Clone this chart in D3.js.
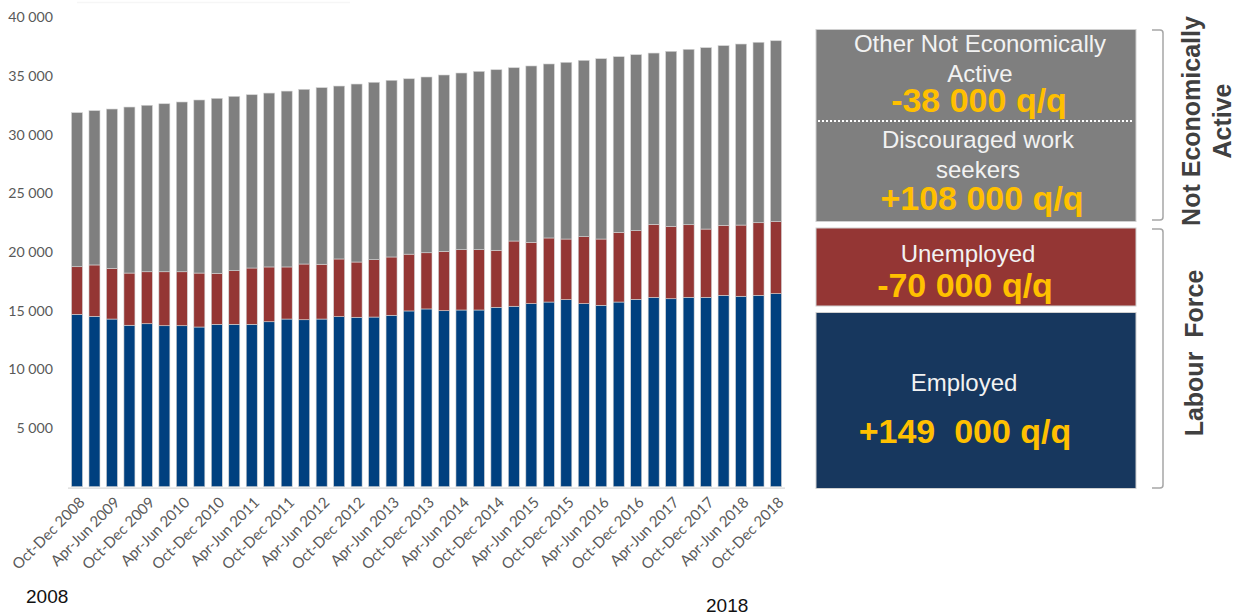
<!DOCTYPE html>
<html><head><meta charset="utf-8">
<script src="https://cdn.jsdelivr.net/npm/d3@7/dist/d3.min.js"></script>
<style>body{margin:0;background:#fff}svg{display:block}</style>
</head><body>
<svg id="chart" width="1242" height="616"></svg>
<script>
const quarters = [
 "Oct-Dec 2008","Jan-Mar 2009","Apr-Jun 2009","Jul-Sep 2009","Oct-Dec 2009",
 "Jan-Mar 2010","Apr-Jun 2010","Jul-Sep 2010","Oct-Dec 2010",
 "Jan-Mar 2011","Apr-Jun 2011","Jul-Sep 2011","Oct-Dec 2011",
 "Jan-Mar 2012","Apr-Jun 2012","Jul-Sep 2012","Oct-Dec 2012",
 "Jan-Mar 2013","Apr-Jun 2013","Jul-Sep 2013","Oct-Dec 2013",
 "Jan-Mar 2014","Apr-Jun 2014","Jul-Sep 2014","Oct-Dec 2014",
 "Jan-Mar 2015","Apr-Jun 2015","Jul-Sep 2015","Oct-Dec 2015",
 "Jan-Mar 2016","Apr-Jun 2016","Jul-Sep 2016","Oct-Dec 2016",
 "Jan-Mar 2017","Apr-Jun 2017","Jul-Sep 2017","Oct-Dec 2017",
 "Jan-Mar 2018","Apr-Jun 2018","Jul-Sep 2018","Oct-Dec 2018"];
// thousands
const employed = [14690,14520,14290,13760,13890,13720,13720,13610,13840,13840,13840,14060,14290,14230,14290,14490,14440,14460,14610,14980,15150,15000,15060,15060,15290,15380,15600,15740,15940,15600,15460,15740,15970,16140,16020,16140,16140,16310,16230,16310,16450];
const unemployed = [4060,4380,4320,4450,4430,4600,4600,4600,4350,4570,4800,4670,4440,4750,4670,4920,4710,4890,4970,4840,4790,5060,5140,5140,4860,5560,5230,5460,5170,5710,5650,5940,5850,6220,6170,6190,5820,5970,6070,6190,6140];
const notActive = [13130,13150,13580,14150,14190,14320,14470,14750,14910,14860,14770,14820,14990,14890,15050,14740,15170,15120,15060,14950,14980,15030,15060,15200,15390,14770,15030,14830,15060,15030,15370,14970,15000,14600,14920,14950,15460,15310,15430,15380,15420];
const yTicks = [5000,10000,15000,20000,25000,30000,35000,40000];
const seriesKeys = ["employed","unemployed","notActive"];
const seriesColors = ["#00407F","#943634","#7F7F7F"];
const yearLabels = ["2008","2018"];

const svg = d3.select("#chart");
const x = d3.scaleBand().domain(quarters).range([68,785]).paddingInner(0.37).paddingOuter(0.2);
const y = d3.scaleLinear().domain([0,40000]).range([486.7,17.4]);

const rows = quarters.map((q,i)=>({q, employed:employed[i], unemployed:unemployed[i], notActive:notActive[i]}));
const stacked = d3.stack().keys(seriesKeys)(rows);

// faint decorative line at top
svg.append("line").attr("x1",77).attr("x2",350).attr("y1",2.5).attr("y2",2.5)
  .attr("stroke","#f6f6f6").attr("stroke-width",1.5);

// bars
svg.append("g").selectAll("g").data(stacked).join("g")
  .attr("fill",(d,i)=>seriesColors[i])
  .selectAll("rect").data(d=>d).join("rect")
  .attr("x",d=>x(d.data.q))
  .attr("width",x.bandwidth())
  .attr("y",d=>y(d[1]))
  .attr("height",d=>y(d[0])-y(d[1]))
  .attr("stroke","#d4d4d4").attr("stroke-width",0.6);

// x axis baseline
svg.append("line").attr("x1",68).attr("x2",785).attr("y1",y(0)+1.5).attr("y2",y(0)+1.5)
  .attr("stroke","#d9d9d9").attr("stroke-width",1.2);

// y axis labels
const fmt = v => d3.format(",")(v).replace(/,/g," ");
const yAxis = d3.axisLeft(y).tickValues(yTicks).tickFormat(fmt).tickSize(0).tickPadding(0);
const yg = svg.append("g").attr("transform","translate(53,0)").call(yAxis);
yg.select(".domain").remove();
yg.selectAll("text").attr("fill","#595959")
  .style("font-family","Lato, sans-serif").style("font-size","14.2px");

// x axis labels (every other quarter)
const xAxis = d3.axisBottom(x).tickValues(quarters.filter((q,i)=>i%2===0)).tickSize(0).tickPadding(0);
const xg = svg.append("g").attr("transform",`translate(0,${y(0)})`).call(xAxis);
xg.select(".domain").remove();
xg.selectAll("text")
  .attr("fill","#595959")
  .style("font-family","Lato, sans-serif").style("font-size","15px")
  .attr("text-anchor","end")
  .attr("transform","translate(5,13) rotate(-45)")
  .attr("dy","0.35em").attr("y",0);

// year labels
svg.append("text").attr("x",26).attr("y",602.5).text(yearLabels[0])
  .style("font-family","Liberation Sans, Arial, sans-serif").style("font-size","19px").attr("fill","#111");
svg.append("text").attr("x",706).attr("y",611.5).text(yearLabels[1])
  .style("font-family","Liberation Sans, Arial, sans-serif").style("font-size","19px").attr("fill","#111");

// right panel
const boxes = [
  {y0:29.5, y1:221.5, fill:"#7F7F7F"},
  {y0:228, y1:306, fill:"#943634"},
  {y0:312.5, y1:488.5, fill:"#17375E"}
];
const bx0 = 816, bx1 = 1136;
svg.append("g").selectAll("rect").data(boxes).join("rect")
  .attr("x",bx0).attr("y",d=>d.y0).attr("width",bx1-bx0).attr("height",d=>d.y1-d.y0)
  .attr("fill",d=>d.fill).attr("stroke","#d0d0d0").attr("stroke-width",1);
svg.append("line").attr("x1",bx0+2).attr("x2",bx1-2).attr("y1",121).attr("y2",121)
  .attr("stroke","#ffffff").attr("stroke-width",2).attr("stroke-dasharray","2,2");

const panelTexts = [
  {t:"Other Not Economically", x:980, y:51.7, bold:false},
  {t:"Active", x:980, y:81.7, bold:false},
  {t:"-38 000 q/q", x:979, y:112, bold:true},
  {t:"Discouraged work", x:978, y:148.3, bold:false},
  {t:"seekers", x:978, y:177.5, bold:false},
  {t:"+108 000 q/q", x:982, y:210, bold:true},
  {t:"Unemployed", x:968, y:261.7, bold:false},
  {t:"-70 000 q/q", x:965, y:297, bold:true},
  {t:"Employed", x:964, y:391, bold:false},
  {t:"+149\u00a0 000 q/q", x:965, y:443.3, bold:true}
];
svg.append("g").selectAll("text").data(panelTexts).join("text")
  .attr("x",d=>d.x).attr("y",d=>d.y).attr("text-anchor","middle")
  .style("font-family","Liberation Sans, Arial, sans-serif")
  .style("font-size",d=>d.bold?"34px":"24px")
  .style("font-weight",d=>d.bold?"bold":"normal")
  .attr("fill",d=>d.bold?"#FFC000":"#F2F2F2")
  .text(d=>d.t);

// brackets
const brackets = [{y0:30, y1:220}, {y0:229, y1:488}];
const bg = svg.append("g").attr("fill","none").attr("stroke","#A6A6A6").attr("stroke-width",1.5);
brackets.forEach(b=>{
  bg.append("path").attr("d",`M1152,${b.y0} L1160,${b.y0} Q1163,${b.y0} 1163,${b.y0+3} L1163,${b.y1-3} Q1163,${b.y1} 1160,${b.y1} L1152,${b.y1}`);
});

// rotated group labels
const sideLabels = [
  {lines:["Not Economically","Active"], cy:121, x0:1200},
  {lines:["Labour\u00a0 Force"], cy:353, x0:1203}
];
sideLabels.forEach(s=>{
  s.lines.forEach((l,i)=>{
    svg.append("text")
      .attr("transform",`translate(${s.x0+i*31},${s.cy}) rotate(-90)`)
      .attr("text-anchor","middle")
      .style("font-family","Liberation Sans, Arial, sans-serif")
      .style("font-size","25px").style("font-weight","bold")
      .attr("fill","#404040").text(l);
  });
});
</script>
</body></html>
